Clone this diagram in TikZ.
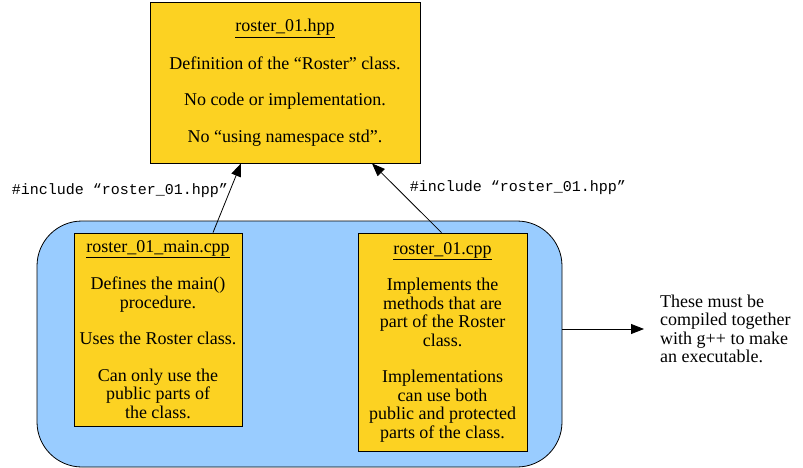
\documentclass[tikz,border=0pt]{standalone}
\usepackage{fontspec}
\setmainfont{Liberation Serif}
\setmonofont{Liberation Mono}
\usepackage{tikz}
\usetikzlibrary{arrows.meta,shapes,positioning}
\usepackage{xcolor}
\definecolor{filegold}{RGB}{252,210,34}
\definecolor{groupblue}{RGB}{153,204,255}
\tikzstyle{filebox} = [draw=black, line width=0.8pt, fill=filegold, align=center, inner sep=0pt, font=\fontsize{18}{18.5}\selectfont]
\tikzstyle{arrow} = [line width=0.8pt, -{Triangle[length=13pt,width=10pt]}]
\tikzstyle{include} = [font=\ttfamily\fontsize{15}{18}\selectfont]

\begin{document}
\begin{tikzpicture}[x=1pt, y=-1pt]
\useasboundingbox (0,0) rectangle (803,468);

\node[draw=black, line width=0.8pt, fill=groupblue, rounded corners=45pt, minimum width=525pt, minimum height=246pt] (group) at (299.5,344) {};

\node[filebox, minimum width=270pt, minimum height=161pt] (hpp) at (285,82.5)
  {\underline{roster\_01.hpp}\\[18pt] Definition of the “Roster” class.\\[18pt] No code or implementation.\\[18pt] No “using namespace std”.};

\node[filebox, minimum width=168pt, minimum height=193pt] (main) at (158,329.5)
  {\underline{roster\_01\_main.cpp}\\[18pt] Defines the main()\\ procedure.\\[18pt] Uses the Roster class.\\[18pt] Can only use the\\ public parts of\\ the class.};

\node[filebox, minimum width=169pt, minimum height=218pt] (cpp) at (442.5,342)
  {\underline{roster\_01.cpp}\\[18pt] Implements the\\ methods that are\\ part of the Roster\\ class.\\[18pt] Implementations\\ can use both\\ public and protected\\ parts of the class.};

\node[include] (incmain) at (120,191) {\#include “roster\_01.hpp”};
\node[include] (inccpp) at (518,188) {\#include “roster\_01.hpp”};

\node[align=left, anchor=west, inner sep=0pt, font=\fontsize{18}{18.5}\selectfont] (note) at (660,329)
  {These must be\\ compiled together\\ with g++ to make\\ an executable.};

\draw[arrow] ([xshift=55pt]main.north) -- ([xshift=-44pt]hpp.south);
\draw[arrow] ([xshift=-1pt]cpp.north) -- ([xshift=87pt]hpp.south);
\draw[arrow] (group.east |- note.west) -- ([xshift=-16pt]note.west);
\end{tikzpicture}
\end{document}
